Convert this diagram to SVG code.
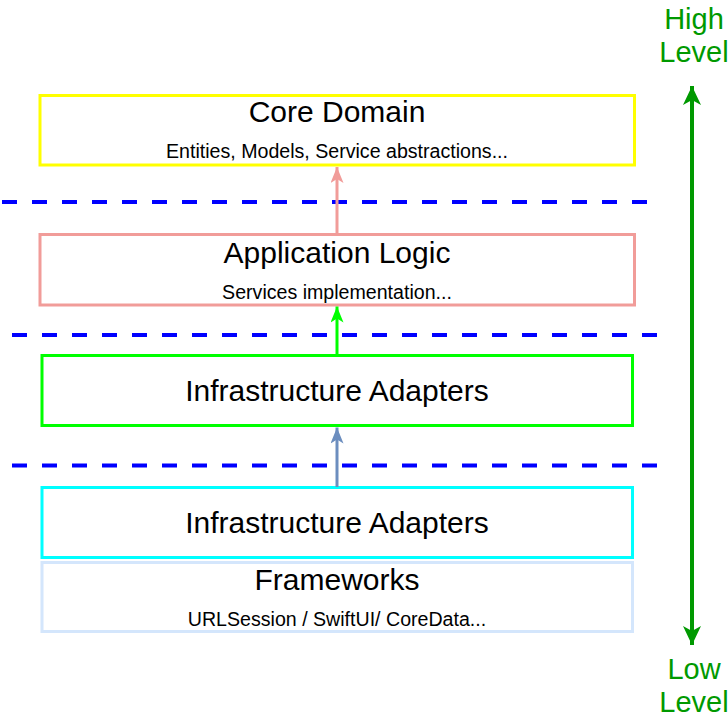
<svg xmlns="http://www.w3.org/2000/svg" width="728" height="720" viewBox="0 0 728 720">
<style>
.box{fill:#FFFFFF;stroke-width:3}
.t{font-family:"Liberation Sans",Arial,Helvetica,sans-serif;fill:#000000;text-anchor:middle}
.big{font-size:30px}
.small{font-size:19.6px}
.lvl{font-family:"Liberation Sans",Arial,Helvetica,sans-serif;fill:#009900;font-size:29px;text-anchor:middle}
.dash{stroke:#0000FF;stroke-width:4;stroke-dasharray:15 15;fill:none}
</style>
<defs>
<marker id="ahPink" markerUnits="userSpaceOnUse" viewBox="0 0 16 13" refX="16" refY="6.5" markerWidth="16" markerHeight="13" orient="auto">
<path d="M16,6.5 L0,0 L4,6.5 L0,13 Z" fill="#F19C99"/>
</marker>
<marker id="ahGreen" markerUnits="userSpaceOnUse" viewBox="0 0 16 13" refX="16" refY="6.5" markerWidth="16" markerHeight="13" orient="auto">
<path d="M16,6.5 L0,0 L4,6.5 L0,13 Z" fill="#00FF00"/>
</marker>
<marker id="ahBlue" markerUnits="userSpaceOnUse" viewBox="0 0 16 13" refX="16" refY="6.5" markerWidth="16" markerHeight="13" orient="auto">
<path d="M16,6.5 L0,0 L4,6.5 L0,13 Z" fill="#6C8EBF"/>
</marker>
<marker id="ahDark" markerUnits="userSpaceOnUse" viewBox="0 0 19 18" refX="19" refY="9" markerWidth="19" markerHeight="18" orient="auto-start-reverse">
<path d="M19,9 L0,0 L5,9 L0,18 Z" fill="#009900"/>
</marker>
</defs>

<g id="separators">
<line class="dash" x1="2" y1="202" x2="648" y2="202"/>
<line class="dash" x1="12" y1="335" x2="658" y2="335"/>
<line class="dash" x1="12" y1="465.5" x2="658" y2="465.5"/>
</g>

<g id="core-domain">
<rect class="box" x="40" y="95.5" width="594.5" height="69.5" stroke="#FFFF00"/>
<text class="t big" x="337" y="122">Core Domain</text>
<text class="t small" x="337" y="158">Entities, Models, Service abstractions...</text>
</g>

<g id="application-logic">
<rect class="box" x="40" y="234.5" width="594.5" height="70.5" stroke="#F19C99"/>
<text class="t big" x="337" y="263">Application Logic</text>
<text class="t small" x="337" y="299">Services implementation...</text>
</g>

<g id="infrastructure-adapters-1">
<rect class="box" x="42" y="355.5" width="590.5" height="70" stroke="#00FF00"/>
<text class="t big" x="337" y="401">Infrastructure Adapters</text>
</g>

<g id="infrastructure-adapters-2">
<rect class="box" x="42" y="487.5" width="590.5" height="70" stroke="#00FFFF"/>
<text class="t big" x="337" y="533">Infrastructure Adapters</text>
</g>

<g id="frameworks">
<rect class="box" x="42" y="562.5" width="590.5" height="69" stroke="#D4E6FC"/>
<text class="t big" x="337" y="590">Frameworks</text>
<text class="t small" x="337" y="626">URLSession / SwiftUI/ CoreData...</text>
</g>

<g id="level-labels">
<text class="lvl" x="694" y="29">High</text>
<text class="lvl" x="694" y="62">Level</text>
<text class="lvl" x="694" y="679">Low</text>
<text class="lvl" x="694" y="712">Level</text>
</g>

<g id="connectors">
<line x1="337" y1="234.5" x2="337" y2="167" stroke="#F19C99" stroke-width="3" marker-end="url(#ahPink)"/>
<line x1="337" y1="355.5" x2="337" y2="306.5" stroke="#00FF00" stroke-width="3" marker-end="url(#ahGreen)"/>
<line x1="337" y1="487" x2="337" y2="427.5" stroke="#6C8EBF" stroke-width="3" marker-end="url(#ahBlue)"/>
<line x1="692" y1="86" x2="692" y2="645" stroke="#009900" stroke-width="4" marker-start="url(#ahDark)" marker-end="url(#ahDark)"/>
</g>
</svg>
